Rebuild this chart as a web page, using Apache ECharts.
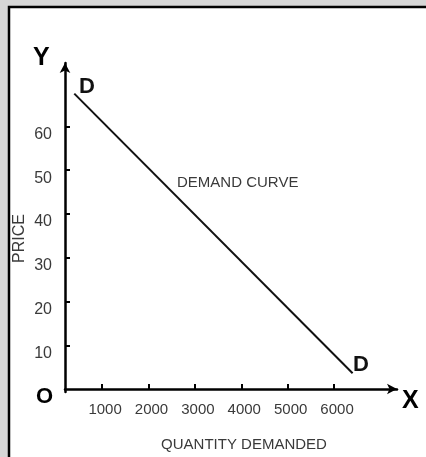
<!DOCTYPE html>
<html>
<head>
<meta charset="utf-8">
<script src="https://cdn.jsdelivr.net/npm/echarts@6/dist/echarts.min.js"></script>
<style>
html,body{margin:0;padding:0;background:#d6d6d6;}
#chart{width:426px;height:457px;}
</style>
</head>
<body>
<div id="chart"></div>
<script>
// Data
const demandQuantity = [400, 6400];
const demandPrice = [67.5, 3.6];
const xTickValues = [1000, 2000, 3000, 4000, 5000, 6000];
const yTickValues = [10, 20, 30, 40, 50, 60];
const xAxisTitle = 'QUANTITY DEMANDED';
const yAxisTitle = 'PRICE';
const curveLabel = 'DEMAND CURVE';

const lineData = demandQuantity.map((q, i) => [q, demandPrice[i]]);

const chart = echarts.init(document.getElementById('chart'), null, {renderer: 'canvas'});
const font = 'Liberation Sans, Arial, sans-serif';
chart.setOption({
  backgroundColor: '#d6d6d6',
  animation: false,
  textStyle: {fontFamily: font},
  grid: {left: 65, right: 29, top: 63, bottom: 63, containLabel: false},
  graphic: [
    {type: 'rect', z: -10, shape: {x: 9, y: 7, width: 430, height: 460}, style: {fill: '#ffffff', stroke: '#000', lineWidth: 2.5}},
    {type: 'text', left: 33, top: 46, style: {text: 'Y', font: 'bold 25px ' + font, fill: '#000'}},
    {type: 'text', left: 402, top: 389, style: {text: 'X', font: 'bold 25px ' + font, fill: '#000'}},
    {type: 'text', left: 36, top: 386, style: {text: 'O', font: 'bold 22px ' + font, fill: '#000'}},
    {type: 'text', left: 79, top: 76, style: {text: 'D', font: 'bold 22px ' + font, fill: '#111'}},
    {type: 'text', left: 353, top: 354, style: {text: 'D', font: 'bold 22px ' + font, fill: '#111'}},
    {type: 'text', left: 177, top: 175, style: {text: curveLabel, font: '15px ' + font, fill: '#3a3a3a'}}
  ],
  xAxis: {
    type: 'value', min: 200, max: 7357,
    name: xAxisTitle, nameLocation: 'middle', nameGap: 45, nameMoveOverlap: false,
    nameTextStyle: {fontSize: 15, color: '#3a3a3a', padding: [0, 0, 0, 26]},
    axisLine: {lineStyle: {color: '#000', width: 2.5}, symbol: ['none', 'arrow'], symbolSize: [8, 10]},
    axisTick: {inside: true, length: 5, lineStyle: {color: '#000', width: 2}, customValues: xTickValues},
    axisLabel: {fontSize: 15, color: '#3a3a3a', margin: 10, customValues: xTickValues, padding: [0, 0, 0, 6],
      formatter: v => String(v)},
    splitLine: {show: false}
  },
  yAxis: {
    type: 'value', min: -0.68, max: 74.5,
    name: yAxisTitle, nameLocation: 'middle', nameGap: 37, nameRotate: 90, nameMoveOverlap: false,
    nameTextStyle: {fontSize: 16, color: '#3a3a3a', padding: [0, 22, 0, 0]},
    axisLine: {lineStyle: {color: '#000', width: 2.5}, symbol: ['none', 'arrow'], symbolSize: [8, 10]},
    axisTick: {inside: true, length: 5, lineStyle: {color: '#000', width: 2}, customValues: yTickValues},
    axisLabel: {fontSize: 16, color: '#3a3a3a', margin: 13, customValues: yTickValues, verticalAlign: 'top', lineHeight: 16,
      formatter: v => String(v)},
    splitLine: {show: false}
  },
  series: [{
    type: 'line', data: lineData, showSymbol: false, symbol: 'none',
    lineStyle: {color: '#111', width: 2}
  }]
});
</script>
</body>
</html>
